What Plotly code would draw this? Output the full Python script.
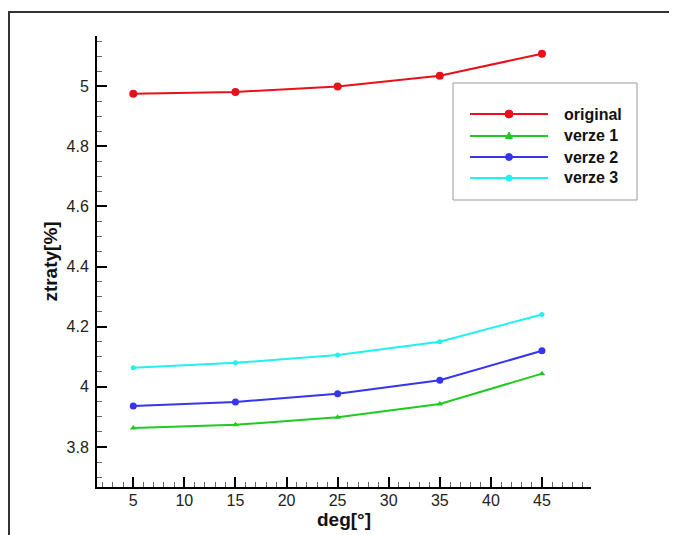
import plotly.graph_objects as go

# ---- data ----
deg = [5, 15, 25, 35, 45]
original = [4.975, 4.981, 4.999, 5.035, 5.108]
verze1 = [3.863, 3.874, 3.899, 3.943, 4.044]
verze2 = [3.936, 3.950, 3.977, 4.022, 4.120]
verze3 = [4.064, 4.080, 4.106, 4.150, 4.241]
series_names = ["original", "verze 1", "verze 2", "verze 3"]
x_ticks = [5, 10, 15, 20, 25, 30, 35, 40, 45]
y_ticks = [3.8, 4.0, 4.2, 4.4, 4.6, 4.8, 5.0]
y_tick_labels = ["3.8", "4", "4.2", "4.4", "4.6", "4.8", "5"]

OFF = 8  # browser body margin
W, H = 677 - OFF, 535 - OFF
L, R, T, B = 97 - OFF, 591 - OFF, 36 - OFF, 487 - OFF

colors = ["#e8101a", "#22c922", "#3535ee", "#1ff0f0"]
symbols = ["circle", "triangle-up", "circle", "circle"]
msizes = [8, 6, 7, 5]

fig = go.Figure()
for name, vals, c, s, ms in zip(series_names, [original, verze1, verze2, verze3], colors, symbols, msizes):
    fig.add_trace(go.Scatter(x=deg, y=vals, mode="lines+markers", name=name,
                             line=dict(color=c, width=2),
                             marker=dict(color=c, symbol=s, size=ms),
                             showlegend=False))

def px(x):
    # screen x pixel -> paper
    return (x - OFF - L) / (R - L)

def py(y):
    # screen y pixel -> paper
    return (B - (y - OFF)) / (B - T)

shapes = []
annotations = []
# outer frame
shapes.append(dict(type="rect", xref="paper", yref="paper",
                   x0=px(9), x1=px(720), y0=py(600), y1=py(12),
                   line=dict(color="#333333", width=2), fillcolor="rgba(0,0,0,0)", layer="above"))
# legend box
shapes.append(dict(type="rect", xref="paper", yref="paper",
                   x0=px(453), x1=px(637), y0=py(200), y1=py(83),
                   line=dict(color="#999999", width=1), fillcolor="white", layer="above"))
item_y = [114, 136, 157, 178]
for name, c, s, yy in zip(series_names, colors, symbols, item_y):
    shapes.append(dict(type="line", xref="paper", yref="paper",
                       x0=px(470), x1=px(548), y0=py(yy), y1=py(yy),
                       line=dict(color=c, width=2), layer="above"))
    if s == "triangle-up":
        path = "M {0},{1} L {2},{3} L {4},{3} Z".format(px(509), py(yy - 4), px(505.5), py(yy + 2.5), px(512.5))
        shapes.append(dict(type="path", xref="paper", yref="paper", path=path,
                           fillcolor=c, line=dict(color=c, width=1), layer="above"))
    else:
        r = 4 if name == "original" else 3.5 if name == "verze 2" else 3
        shapes.append(dict(type="circle", xref="paper", yref="paper",
                           x0=px(509 - r), x1=px(509 + r), y0=py(yy + r), y1=py(yy - r),
                           fillcolor=c, line=dict(color=c, width=1), layer="above"))
    annotations.append(dict(text=name, xref="paper", yref="paper", x=px(562), y=py(yy),
                            xanchor="left", yanchor="middle", showarrow=False,
                            font=dict(family="Liberation Sans, Arial, sans-serif", size=16,
                                      color="#111111", weight="bold")))

fig.update_layout(
    width=W, height=H,
    margin=dict(l=L, r=W - R, t=T, b=H - B, pad=0),
    paper_bgcolor="white", plot_bgcolor="white",
    font=dict(family="Liberation Sans, Arial, sans-serif", color="#222222"),
    shapes=shapes, annotations=annotations,
    xaxis=dict(range=[1.45, 49.8], tickvals=x_ticks, ticks="inside", ticklen=10, tickwidth=2,
               tickcolor="black", showline=True, linecolor="black", linewidth=2, automargin=False,
               showgrid=False, zeroline=False, tickfont=dict(size=16), ticklabelstandoff=-2,
               minor=dict(dtick=1, tick0=0, ticks="inside", ticklen=5, tickcolor="#666666", tickwidth=1),
               title=dict(text="deg[°]", font=dict(size=19, weight="bold", color="#111111"), standoff=0)),
    yaxis=dict(range=[3.667, 5.167], tickvals=y_ticks, ticktext=y_tick_labels, ticks="inside",
               ticklen=10, tickwidth=2, tickcolor="black", showline=True, linecolor="black",
               linewidth=2, showgrid=False, zeroline=False, tickfont=dict(size=16), ticklabelstandoff=3,
               automargin=False,
               minor=dict(dtick=0.05, tick0=0, ticks="inside", ticklen=5, tickcolor="#666666", tickwidth=1),
               title=dict(text="ztraty[%]", font=dict(size=19, weight="bold", color="#111111"), standoff=4)),
)

fig.write_html("out.html")
